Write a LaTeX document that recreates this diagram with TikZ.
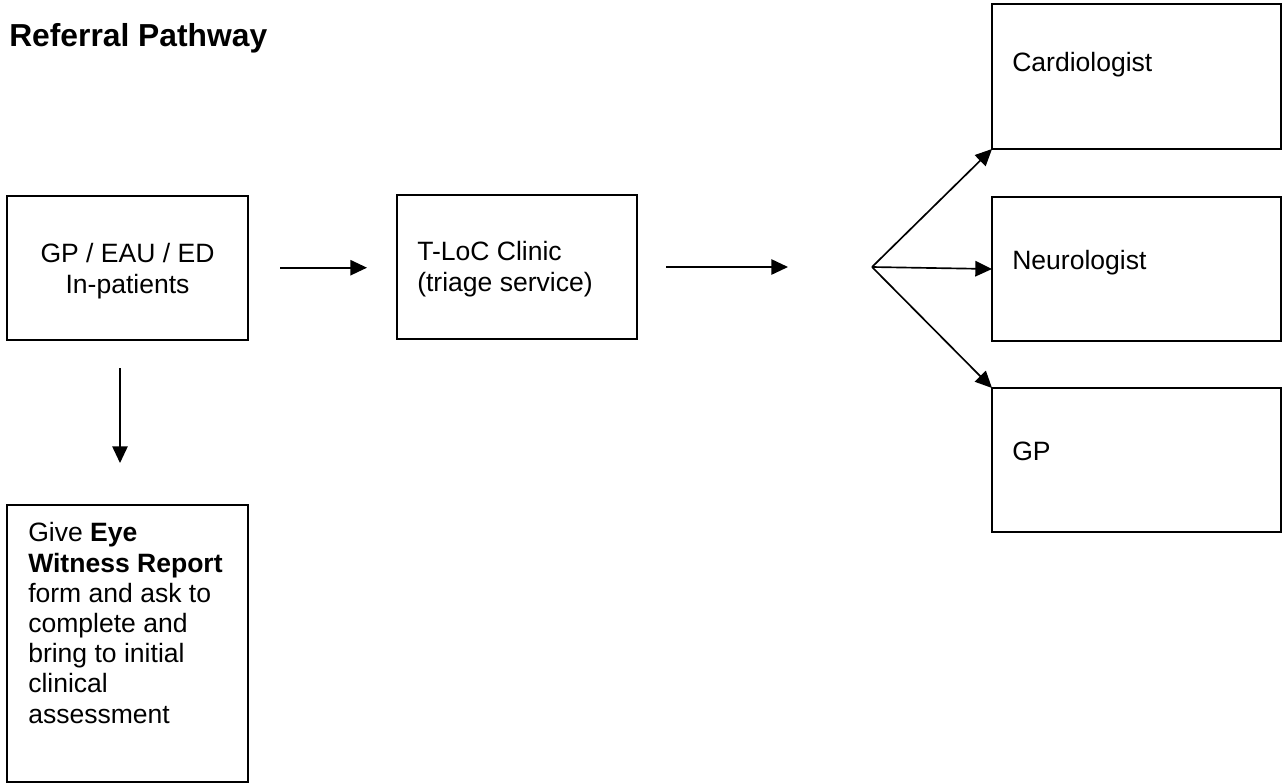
\documentclass[tikz,border=0pt]{standalone}
\usepackage{fontspec}
\setmainfont{Liberation Sans}
\usetikzlibrary{arrows.meta}
\begin{document}
\begin{tikzpicture}[x=0.75pt,y=-0.75pt,
  box/.style={draw=black,line width=1.5pt,inner sep=0pt,outer sep=0pt,fill=white},
  body/.style={inner sep=0pt,font=\fontsize{19.9pt}{22.65pt}\selectfont},
  flow/.style={line width=1.25pt,-{Triangle[length=12.5pt,width=11.5pt]}}]
\useasboundingbox (0,0) rectangle (1284,783);

% title
\node[anchor=base west,inner sep=0pt,font=\fontsize{23.85pt}{28pt}\selectfont\bfseries] (title) at (9,46) {Referral Pathway};

% boxes
\node[box,minimum width=180.75pt,minimum height=108pt] (src) at (127.5,268) {};
\node[box,minimum width=180pt,minimum height=108pt] (tloc) at (517,267) {};
\node[box,minimum width=216.75pt,minimum height=108.75pt] (card) at (1136.5,76.5) {};
\node[box,minimum width=216.75pt,minimum height=108pt] (neuro) at (1136.5,269) {};
\node[box,minimum width=216.75pt,minimum height=108pt] (gp) at (1136.5,460) {};
\node[box,minimum width=180.75pt,minimum height=207.75pt] (eye) at (127.5,643.5) {};

% box texts (base anchor of a multi-line node sits on its last line)
\node[body,anchor=base,align=center] (srct) at (127.5,293) {GP / EAU / ED\\In-patients};
\node[body,anchor=base west,align=left] (tloct) at (417,291) {T-LoC Clinic\\(triage service)};
\node[body,anchor=base west] (cardt) at (1012,71) {Cardiologist};
\node[body,anchor=base west] (neurot) at (1012,269) {Neurologist};
\node[body,anchor=base west] (gpt) at (1012,460) {GP};
\node[body,anchor=base west,align=left] (eyet) at (28,723)
  {Give \textbf{Eye}\\\textbf{Witness Report}\\form and ask to\\complete and\\bring to initial\\clinical\\assessment};

% connector end points
\coordinate (a1s) at (280,267.7);
\coordinate (a1e) at (367,267.7);
\coordinate (a2s) at (666,267);
\coordinate (a2e) at (788,267);
\coordinate (fork) at (872,267);
\coordinate (a3s) at (120,368);
\coordinate (a3e) at (120,463);

% connectors
\draw[flow] (a1s) -- (a1e);
\draw[flow] (a2s) -- (a2e);
\draw[flow] (fork) -- (card.south west);
\draw[flow] (fork) -- (neuro.west);
\draw[flow] (fork) -- (gp.north west);
\draw[flow] (a3s) -- (a3e);
\end{tikzpicture}
\end{document}
